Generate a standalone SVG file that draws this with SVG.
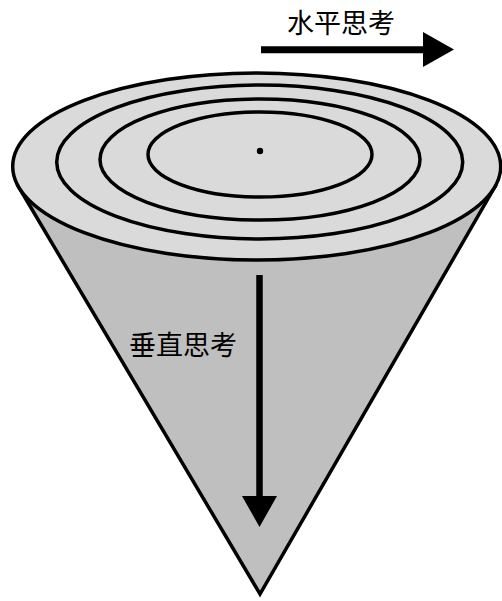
<svg xmlns="http://www.w3.org/2000/svg" width="502" height="601" viewBox="0 0 502 601">
<style>
.ln{stroke:#000;stroke-width:3.5;}
.ring{fill:none;stroke:#000;stroke-width:3.5;}
.lbl{font-family:"Noto Sans CJK SC","Noto Sans CJK JP",sans-serif;font-size:27px;fill:#000;}
</style>
<rect width="502" height="601" fill="#fff"/>
<g id="cone">
<polygon points="18.7,187 260,594 495,186.5" fill="#bfbfbf" class="ln" stroke-linejoin="miter" stroke-miterlimit="10"/>
<ellipse cx="256.7" cy="166.5" rx="244" ry="93.5" fill="#dadada" class="ln"/>
</g>
<g id="rings">
<ellipse class="ring" cx="259.7" cy="162" rx="203" ry="77"/>
<ellipse class="ring" cx="260" cy="159.5" rx="160" ry="60.5"/>
<ellipse class="ring" cx="260" cy="154.5" rx="112" ry="42.5"/>
<circle cx="260" cy="151" r="3.2" fill="#000"/>
</g>
<g id="connectors">
<line x1="261" y1="49.7" x2="425" y2="49.7" stroke="#000" stroke-width="7"/>
<polygon points="423,32 454,49.5 423,67" fill="#000"/>
<line x1="259.5" y1="275" x2="259.5" y2="498" stroke="#000" stroke-width="6.5"/>
<polygon points="242,496 277,496 259.5,527" fill="#000"/>
</g>
<g id="label-horizontal"><text class="lbl" x="287" y="33">水平思考</text></g>
<g id="label-vertical"><text class="lbl" x="129" y="355">垂直思考</text></g>
</svg>
